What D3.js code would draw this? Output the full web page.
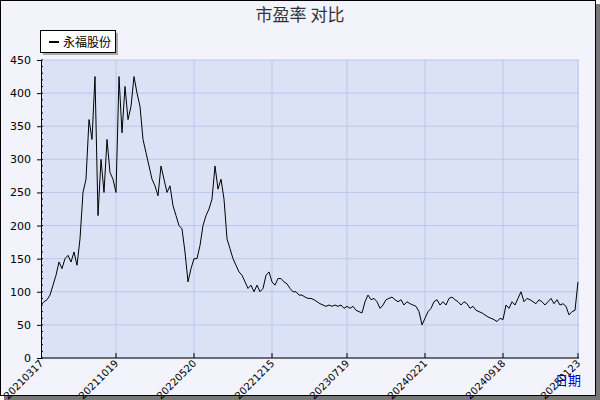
<!DOCTYPE html><html><head><meta charset="utf-8"><script src="https://cdn.jsdelivr.net/npm/d3@7"></script>
<style>body{margin:0;background:#fff}</style></head><body><svg id="c" width="600" height="400"></svg>
<script>
const title = "市盈率  对比";
const seriesName = "永福股份";
const peValues = [80,85,88,95,110,125,145,135,150,155,145,160,140,180,250,270,360,330,425,215,300,250,330,280,270,250,425,340,410,360,380,425,400,380,330,310,290,270,260,245,290,270,250,260,230,215,200,195,160,115,135,150,150,170,200,215,225,240,290,255,270,240,180,165,150,140,130,125,115,105,110,100,110,100,105,125,130,115,110,120,120,115,112,105,100,100,95,95,92,90,90,88,85,82,80,78,80,78,80,78,80,75,78,75,78,72,70,68,85,95,88,90,85,75,80,88,90,92,88,85,88,80,85,82,80,78,70,50,60,70,75,85,88,80,85,80,90,92,88,85,80,85,82,75,78,72,70,68,65,62,60,58,55,60,58,80,75,85,80,90,100,85,90,88,85,82,88,85,80,85,90,82,88,80,82,78,65,70,72,115];
const tickIdx = [0,25,51,77,102,128,154,179];
const tickLabels = ["20210317","20211019","20220520","20221215","20230719","20240221","20240918","20250123"];
const yTicks = [0,50,100,150,200,250,300,350,400,450];
const svg = d3.select("#c");
svg.append("rect").attr("x",4).attr("y",4).attr("width",596).attr("height",396).attr("fill","#777");
svg.append("rect").attr("x",0.5).attr("y",0.5).attr("width",595).attr("height",395).attr("fill","#f2f3fb").attr("stroke","#000");
const L=41,R=579,T=60,B=358;
const x=d3.scaleLinear().domain([0,peValues.length-1]).range([L,R-1]);
const y=d3.scaleLinear().domain([0,450]).range([B,T]);
svg.append("rect").attr("x",L).attr("y",T).attr("width",R-L).attr("height",B-T).attr("fill","#dbe2f6");
const g=svg.append("g");
yTicks.forEach(t=>g.append("line").attr("x1",L).attr("x2",R).attr("y1",y(t)).attr("y2",y(t)).attr("stroke","#b9c8ee"));
tickIdx.slice(1).forEach(i=>g.append("line").attr("x1",x(i)).attr("x2",x(i)).attr("y1",T).attr("y2",B).attr("stroke","#b9c8ee"));
const ya=svg.append("g").attr("transform",`translate(${L},0)`).call(d3.axisLeft(y).tickValues(yTicks).tickSize(4).tickPadding(6));
ya.selectAll("text").attr("font-family","DejaVu Sans").attr("font-size",11).attr("fill","#000");
ya.select(".domain").attr("stroke","#000");
d3.range(0,451,10).forEach(v=>svg.append("line").attr("x1",L).attr("x2",L+2).attr("y1",y(v)).attr("y2",y(v)).attr("stroke","#000"));
svg.append("line").attr("x1",L).attr("x2",R).attr("y1",B).attr("y2",B).attr("stroke","#000");
tickIdx.slice(1).forEach(i=>svg.append("line").attr("x1",x(i)).attr("x2",x(i)).attr("y1",B).attr("y2",B-5).attr("stroke","#000"));
tickLabels.forEach((t,k)=>{const px=x(tickIdx[k]);
 svg.append("text").attr("transform",`translate(${px+3},${B+6}) rotate(-45)`).attr("text-anchor","end").attr("font-family","DejaVu Sans").attr("font-size",10).attr("fill","#000").text(t);});
svg.append("path").datum(peValues).attr("fill","none").attr("stroke","#000").attr("stroke-width",1)
 .attr("d",d3.line().x((d,i)=>x(i)).y(d=>y(d)));
svg.append("text").attr("x",300).attr("y",21).attr("text-anchor","middle").attr("font-family","Noto Sans CJK SC").attr("font-size",17).attr("fill","#333").text(title);
svg.append("rect").attr("x",43).attr("y",33).attr("width",75).attr("height",22).attr("fill","#aaa");
svg.append("rect").attr("x",40.5).attr("y",30.5).attr("width",75).attr("height",22).attr("fill","#fff").attr("stroke","#000");
svg.append("line").attr("x1",49).attr("x2",59).attr("y1",42).attr("y2",42).attr("stroke","#000").attr("stroke-width",2);
svg.append("text").attr("x",63).attr("y",47).attr("font-family","Noto Sans CJK SC").attr("font-size",12).attr("fill","#000").text(seriesName);
svg.append("text").attr("x",555).attr("y",385).attr("font-family","Noto Sans CJK SC").attr("font-size",13).attr("fill","#00c").text("日期");
</script></body></html>
